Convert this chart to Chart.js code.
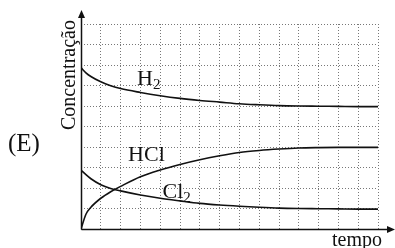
<!DOCTYPE html>
<html>
<head>
<meta charset="utf-8">
<script src="https://cdn.jsdelivr.net/npm/chart.js@4.4.0/dist/chart.umd.min.js"></script>
<style>
  html, body { margin: 0; padding: 0; background: #fff; }
  canvas { display: block; }
</style>
</head>
<body>
<canvas id="chart" width="395" height="248"></canvas>
<script>
// values, in grid cells
const tempo = [0, 0.25, 0.5, 1, 1.5, 2, 3, 4, 5, 6, 7, 8, 9, 10, 11, 12, 13, 14, 15];
const h2  = [7.87, 7.62, 7.44, 7.18, 6.99, 6.85, 6.66, 6.5, 6.37, 6.27, 6.19, 6.11, 6.06, 6.02, 6.0, 5.99, 5.98, 5.97, 5.97];
const hcl = [0, 0.72, 1.06, 1.5, 1.82, 2.08, 2.55, 2.88, 3.15, 3.38, 3.57, 3.73, 3.83, 3.9, 3.95, 3.97, 3.98, 3.98, 3.98];
const cl2 = [2.88, 2.65, 2.45, 2.16, 1.98, 1.86, 1.66, 1.5, 1.37, 1.25, 1.17, 1.11, 1.06, 1.02, 1.0, 0.99, 0.98, 0.97, 0.97];

const xMax = 15;
const yMax = 10;

// curve labels: text, subscript, position in data units
const curveLabels = [
  { text: "H", sub: "2", x: 2.83, y: 7.02 },
  { text: "HCl", sub: "", x: 2.38, y: 3.3 },
  { text: "Cl", sub: "2", x: 4.12, y: 1.52 }
];

const serif = "'Liberation Serif', 'DejaVu Serif', serif";

function toPoints(values) {
  return values.map((v, i) => ({ x: tempo[i], y: v }));
}

function curve(values) {
  return {
    data: toPoints(values),
    borderColor: "#111",
    borderWidth: 1.6,
    pointRadius: 0,
    fill: false,
    cubicInterpolationMode: "monotone"
  };
}

// Axes with arrows + all the text
const axesAndLabels = {
  id: "axesAndLabels",
  afterDraw(chart) {
    const ctx = chart.ctx;
    const xs = chart.scales.x;
    const ys = chart.scales.y;
    const x0 = Math.round(xs.getPixelForValue(0)) + 0.5;
    const y0 = Math.round(ys.getPixelForValue(0)) + 0.5;
    const top = ys.getPixelForValue(yMax) - 14;
    const right = chart.width;

    ctx.save();
    ctx.strokeStyle = "#111";
    ctx.fillStyle = "#111";
    ctx.lineWidth = 1.5;

    ctx.beginPath();
    ctx.moveTo(x0, y0);
    ctx.lineTo(x0, top + 6);
    ctx.moveTo(x0, y0);
    ctx.lineTo(right - 6, y0);
    ctx.stroke();

    // arrow heads
    ctx.beginPath();
    ctx.moveTo(x0, top);
    ctx.lineTo(x0 - 3.5, top + 8);
    ctx.lineTo(x0 + 3.5, top + 8);
    ctx.closePath();
    ctx.fill();
    ctx.beginPath();
    ctx.moveTo(right, y0);
    ctx.lineTo(right - 8, y0 - 3.5);
    ctx.lineTo(right - 8, y0 + 3.5);
    ctx.closePath();
    ctx.fill();

    // curve labels
    curveLabels.forEach(l => {
      const px = xs.getPixelForValue(l.x);
      const py = ys.getPixelForValue(l.y);
      ctx.font = "22px " + serif;
      ctx.textAlign = "left";
      ctx.textBaseline = "alphabetic";
      ctx.fillText(l.text, px, py);
      if (l.sub) {
        const w = ctx.measureText(l.text).width;
        ctx.font = "15px " + serif;
        ctx.fillText(l.sub, px + w, py + 4);
      }
    });

    // (E)
    ctx.font = "25px " + serif;
    ctx.fillText("(E)", 8, 151);

    // axis titles
    ctx.font = "20px " + serif;
    ctx.textAlign = "right";
    ctx.fillText("tempo", 382, 246);

    ctx.save();
    ctx.translate(75, 130);
    ctx.rotate(-Math.PI / 2);
    ctx.textAlign = "left";
    ctx.fillText("Concentração", 0, 0);
    ctx.restore();

    ctx.restore();
  }
};

const gridStyle = {
  color: "#777",
  lineWidth: 1,
  drawTicks: false
};

new Chart(document.getElementById("chart"), {
  type: "line",
  data: {
    datasets: [curve(h2), curve(hcl), curve(cl2)]
  },
  options: {
    responsive: false,
    animation: false,
    devicePixelRatio: 1,
    layout: { padding: { top: 24, right: 17, left: 0, bottom: 0 } },
    plugins: {
      legend: { display: false },
      tooltip: { enabled: false }
    },
    scales: {
      x: {
        type: "linear",
        min: 0,
        max: xMax,
        ticks: { display: false, stepSize: 1 },
        grid: gridStyle,
        border: { display: false, dash: [1, 2] },
        afterFit(scale) { scale.height = 19; }
      },
      y: {
        min: 0,
        max: yMax,
        ticks: { display: false, stepSize: 1 },
        grid: gridStyle,
        border: { display: false, dash: [1, 2] },
        afterFit(scale) { scale.width = 81; }
      }
    }
  },
  plugins: [axesAndLabels]
});
</script>
</body>
</html>
